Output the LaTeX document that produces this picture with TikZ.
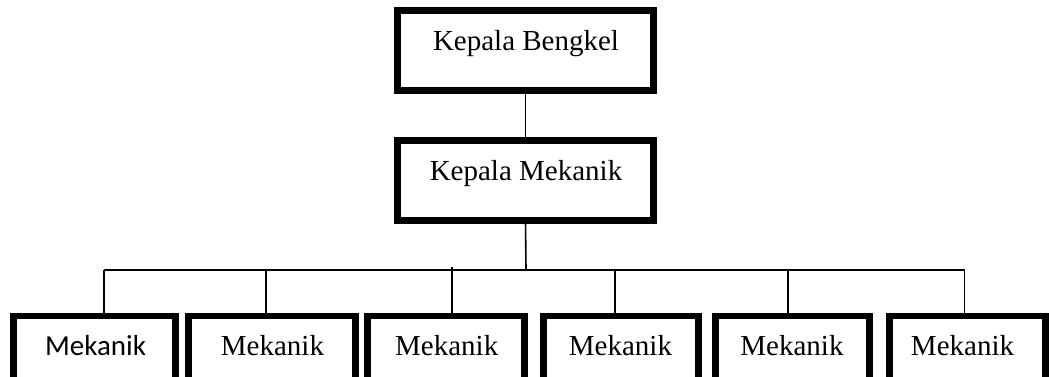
\documentclass[tikz,border=0pt]{standalone}
\usepackage{fontspec}
\setmainfont{Liberation Serif}
\newfontfamily\calibrifont{Carlito}
\begin{document}
\begin{tikzpicture}[x=0.75pt,y=-0.75pt,
  box/.style={draw=black,line width=5pt,inner sep=0pt,outer sep=0pt,minimum height=#1},
  box/.default=60.2pt,
  lbl/.style={anchor=base,inner sep=0pt,font=\fontsize{21.75pt}{26pt}\selectfont},
  conn/.style={draw=black,line width=1.2pt}]
\useasboundingbox (0,0) rectangle (1049,376);
\clip (0,0) rectangle (1049,376);
% top boxes
\node[box,minimum width=192.2pt] (kb) at (525.5,50.5) {};
\node[box,minimum width=192.2pt] (km) at (525.5,180.5) {};
\node[lbl] (kbt) at (526,50) {Kepala Bengkel};
\node[lbl] (kmt) at (526,180) {Kepala Mekanik};
% bottom boxes
\node[box=78pt,minimum width=121.7pt] (m1) at (94.5,368) {};
\node[box=78pt,minimum width=125.5pt] (m2) at (272,368) {};
\node[box=78pt,minimum width=118pt] (m3) at (446,368) {};
\node[box=78pt,minimum width=116.5pt] (m4) at (621,368) {};
\node[box=78pt,minimum width=115.7pt] (m5) at (792.5,368) {};
\node[box=78pt,minimum width=117.2pt] (m6) at (967.5,368) {};
\node[lbl,font=\calibrifont\fontsize{21.75pt}{26pt}\selectfont] (m1t) at (95.5,355.5) {Mekanik};
\node[lbl] (m2t) at (272.5,355.5) {Mekanik};
\node[lbl] (m3t) at (446.7,355.5) {Mekanik};
\node[lbl] (m4t) at (620.5,355.5) {Mekanik};
\node[lbl] (m5t) at (792,355.5) {Mekanik};
\node[lbl] (m6t) at (962.5,355.5) {Mekanik};
% connectors
\coordinate (bus) at (526,270);
\coordinate (t1) at (104,270);
\coordinate (t2) at (266,270);
\coordinate (t3) at (452,267);
\coordinate (t4) at (615,270);
\coordinate (t5) at (788,270);
\coordinate (t6) at (964.5,270);
\draw[conn] (kb.south) -- (km.north);
\draw[conn] (km.south) -- (bus);
\draw[conn] (t1) -- (t6);
\draw[conn] (t1) -- (t1 |- m1.north);
\draw[conn] (t2) -- (t2 |- m2.north);
\draw[conn] (t3) -- (t3 |- m3.north);
\draw[conn] (t4) -- (t4 |- m4.north);
\draw[conn] (t5) -- (t5 |- m5.north);
\draw[conn] (t6) -- (t6 |- m6.north);
\end{tikzpicture}
\end{document}
